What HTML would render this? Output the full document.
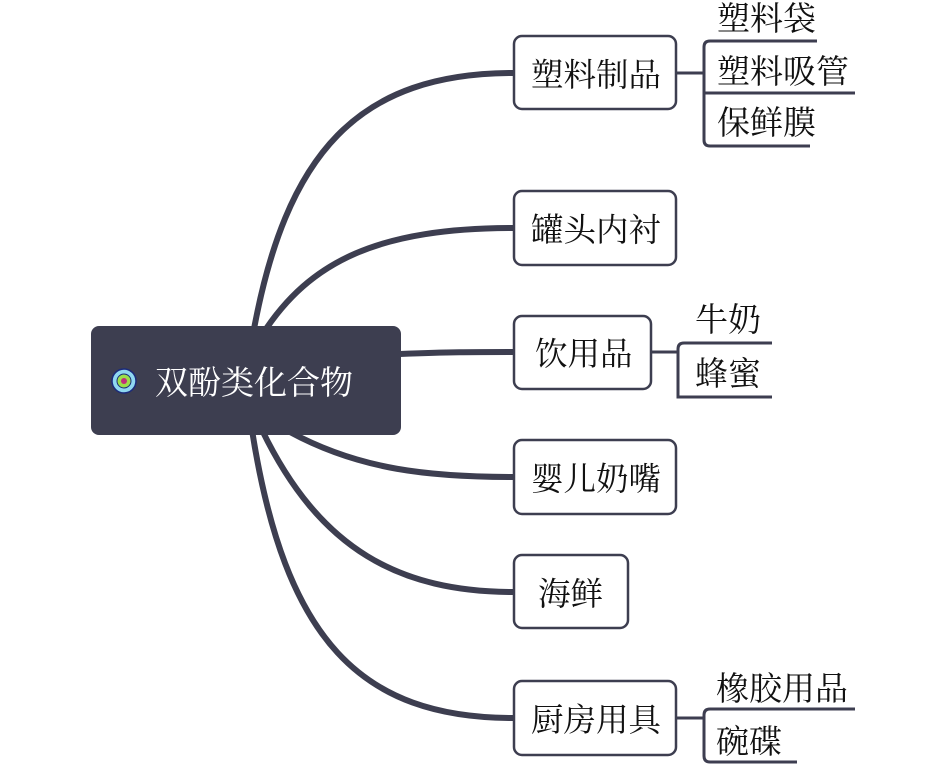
<!DOCTYPE html>
<html><head><meta charset="utf-8"><style>
body{margin:0;background:#fff;width:945px;height:764px;overflow:hidden;position:relative;font-family:"Liberation Serif","Noto Serif CJK SC",serif;}
.t{position:absolute;font-size:32.5px;color:#111;white-space:nowrap;line-height:36px}
</style></head><body>
<svg width="945" height="764" style="position:absolute;left:0;top:0">
<g fill="none" stroke="#3d3e50" stroke-width="6" stroke-linecap="round">
<path d="M252,340 C285,150 360,73 514,73"/>
<path d="M262,335 C310,260 380,228 514,228"/>
<path d="M400,354 C450,352 470,352 514,352"/>
<path d="M290,432 C360,470 430,477 514,477"/>
<path d="M262,430 C320,550 400,592 514,592"/>
<path d="M252,430 C285,640 360,718 514,718"/>
</g>
<g fill="none" stroke="#3d3e50" stroke-width="3">
<path d="M676,73 H704"/>
<path d="M817,41 H710 Q704,41 704,47 V140 Q704,146 710,146 H810"/>
<path d="M704,93 H855"/>
<path d="M651,352 H678"/>
<path d="M772,343 H684 Q678,343 678,349 V397 H772"/>
<path d="M676,718 H704"/>
<path d="M855,709 H710 Q704,709 704,715 V756 Q704,762 710,762 H797"/>
</g>
<rect x="91" y="326" width="310" height="109" rx="8" fill="#3d3e50"/>
<circle cx="124" cy="381" r="12" fill="#8fd8f0" stroke="#1b2a7a" stroke-width="1.5"/>
<circle cx="124" cy="381" r="7" fill="#9be04a" stroke="#1b2a7a" stroke-width="1"/>
<circle cx="124" cy="381" r="3" fill="#c0307a"/>
<g fill="#fff" stroke="#3d3e50" stroke-width="2.5">
<rect x="514" y="36" width="162" height="73" rx="8"/>
<rect x="514" y="191" width="162" height="74" rx="8"/>
<rect x="514" y="316" width="137" height="73" rx="8"/>
<rect x="514" y="440" width="162" height="74" rx="8"/>
<rect x="514" y="555" width="114" height="73" rx="8"/>
<rect x="514" y="681" width="162" height="74" rx="8"/>
</g>
</svg>
<div class="t" style="left:155px;top:366px;color:#fff;font-size:33px">双酚类化合物</div>
<div class="t" style="left:531px;top:58px">塑料制品</div>
<div class="t" style="left:531px;top:213px">罐头内衬</div>
<div class="t" style="left:535px;top:337px">饮用品</div>
<div class="t" style="left:531px;top:462px">婴儿奶嘴</div>
<div class="t" style="left:538px;top:577px">海鲜</div>
<div class="t" style="left:531px;top:703px">厨房用具</div>
<div class="t" style="left:717px;top:2px;font-size:33px">塑料袋</div>
<div class="t" style="left:717px;top:55px;font-size:33px">塑料吸管</div>
<div class="t" style="left:717px;top:106px;font-size:33px">保鲜膜</div>
<div class="t" style="left:695px;top:303px;font-size:33px">牛奶</div>
<div class="t" style="left:695px;top:357px;font-size:33px">蜂蜜</div>
<div class="t" style="left:716px;top:672px;font-size:33px">橡胶用品</div>
<div class="t" style="left:716px;top:725px;font-size:33px">碗碟</div>
</body></html>
